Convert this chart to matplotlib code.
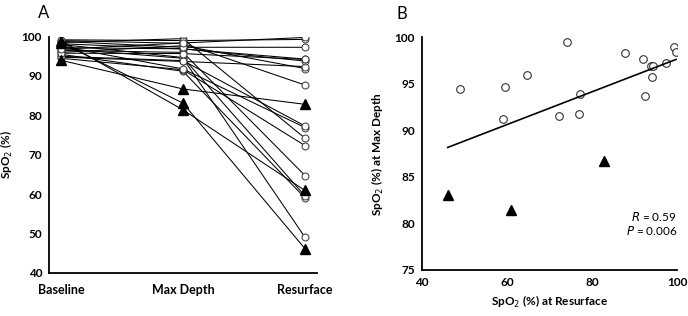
import numpy as np
import matplotlib
matplotlib.use("Agg")
import matplotlib.pyplot as plt

plt.rcParams['font.family'] = ['Lato', 'DejaVu Sans']

# SpO2 per subject: baseline, max depth, resurface (open circles)
base_c = [97.0, 95.5, 98.0, 96.5, 94.5, 98.5, 97.5, 95.0, 99.0, 96.0, 94.8, 98.2, 97.2, 95.8, 98.8, 99.2, 96.8]
depth_c = [94.5, 91.2, 94.7, 96.0, 91.6, 99.5, 91.8, 93.9, 98.3, 97.7, 93.7, 96.9, 96.9, 95.7, 97.3, 99.0, 98.4]
surf_c = [49.0, 59.0, 59.5, 64.7, 72.3, 74.2, 76.9, 77.3, 87.7, 91.9, 92.4, 93.8, 94.3, 94.2, 97.3, 99.3, 99.8]

# subjects drawn as filled triangles
base_t = [98.5, 99.0, 94.0]
depth_t = [83.1, 81.4, 86.7]
surf_t = [46.1, 60.9, 82.8]

stages = ['Baseline', 'Max Depth', 'Resurface']

fig = plt.figure(figsize=(6.88, 3.16), dpi=100)

# ---- panel A
axA = fig.add_axes([0.0712, 0.137, 0.3895, 0.747])
xs = np.arange(3)
for b, d, s in zip(base_c, depth_c, surf_c):
    axA.plot(xs, [b, d, s], color='black', lw=0.75, marker='o', ms=5,
             mfc='white', mec='#333333', mew=0.7)
for b, d, s in zip(base_t, depth_t, surf_t):
    axA.plot(xs, [b, d, s], color='black', lw=0.75, marker='^', ms=7,
             mfc='black', mec='black', zorder=3)
axA.set_xlim(-0.098, 2.098)
axA.set_ylim(40, 100)
axA.set_yticks(range(40, 101, 10))
axA.set_xticks(xs)
axA.set_xticklabels(stages)
axA.set_ylabel('SpO$_2$ (%)', fontsize=8.5, fontweight='bold', labelpad=5)
axA.text(-0.04, 1.08, 'A', transform=axA.transAxes, fontsize=12)

# ---- panel B
axB = fig.add_axes([0.613, 0.1456, 0.371, 0.736])
axB.plot(surf_c, depth_c, 'o', ms=5.5, mfc='white', mec='#333333', mew=0.8)
axB.plot(surf_t, depth_t, '^', ms=7.5, mfc='black', mec='black')
all_x = np.array(surf_c + surf_t)
all_y = np.array(depth_c + depth_t)
k, c = np.polyfit(all_x, all_y, 1)
fx = np.array([all_x.min(), all_x.max()])
axB.plot(fx, k * fx + c, color='black', lw=1.2)
axB.set_xlim(40, 100)
axB.set_ylim(75, 100)
axB.set_xticks(range(40, 101, 20))
axB.set_yticks(range(75, 101, 5))
axB.set_xlabel('SpO$_2$ (%) at Resurface', fontsize=8.5, fontweight='bold', labelpad=4)
axB.set_ylabel('SpO$_2$ (%) at Max Depth', fontsize=8.5, fontweight='bold', labelpad=6)
axB.text(100, 80.3, '$R$ = 0.59', ha='right', fontsize=8.5)
axB.text(100, 78.8, '$P$ = 0.006', ha='right', fontsize=8.5)
axB.text(-0.1, 1.08, 'B', transform=axB.transAxes, fontsize=12)

for ax in (axA, axB):
    ax.spines['top'].set_visible(False)
    ax.spines['right'].set_visible(False)
    ax.spines['left'].set_linewidth(1.3)
    ax.spines['bottom'].set_linewidth(1.3)
    ax.tick_params(length=0, labelsize=8.5, pad=5)
    for lab in ax.get_xticklabels() + ax.get_yticklabels():
        lab.set_fontweight('bold')
axA.tick_params(axis='x', labelsize=9, pad=8)

fig.savefig('out.png', dpi=100)
